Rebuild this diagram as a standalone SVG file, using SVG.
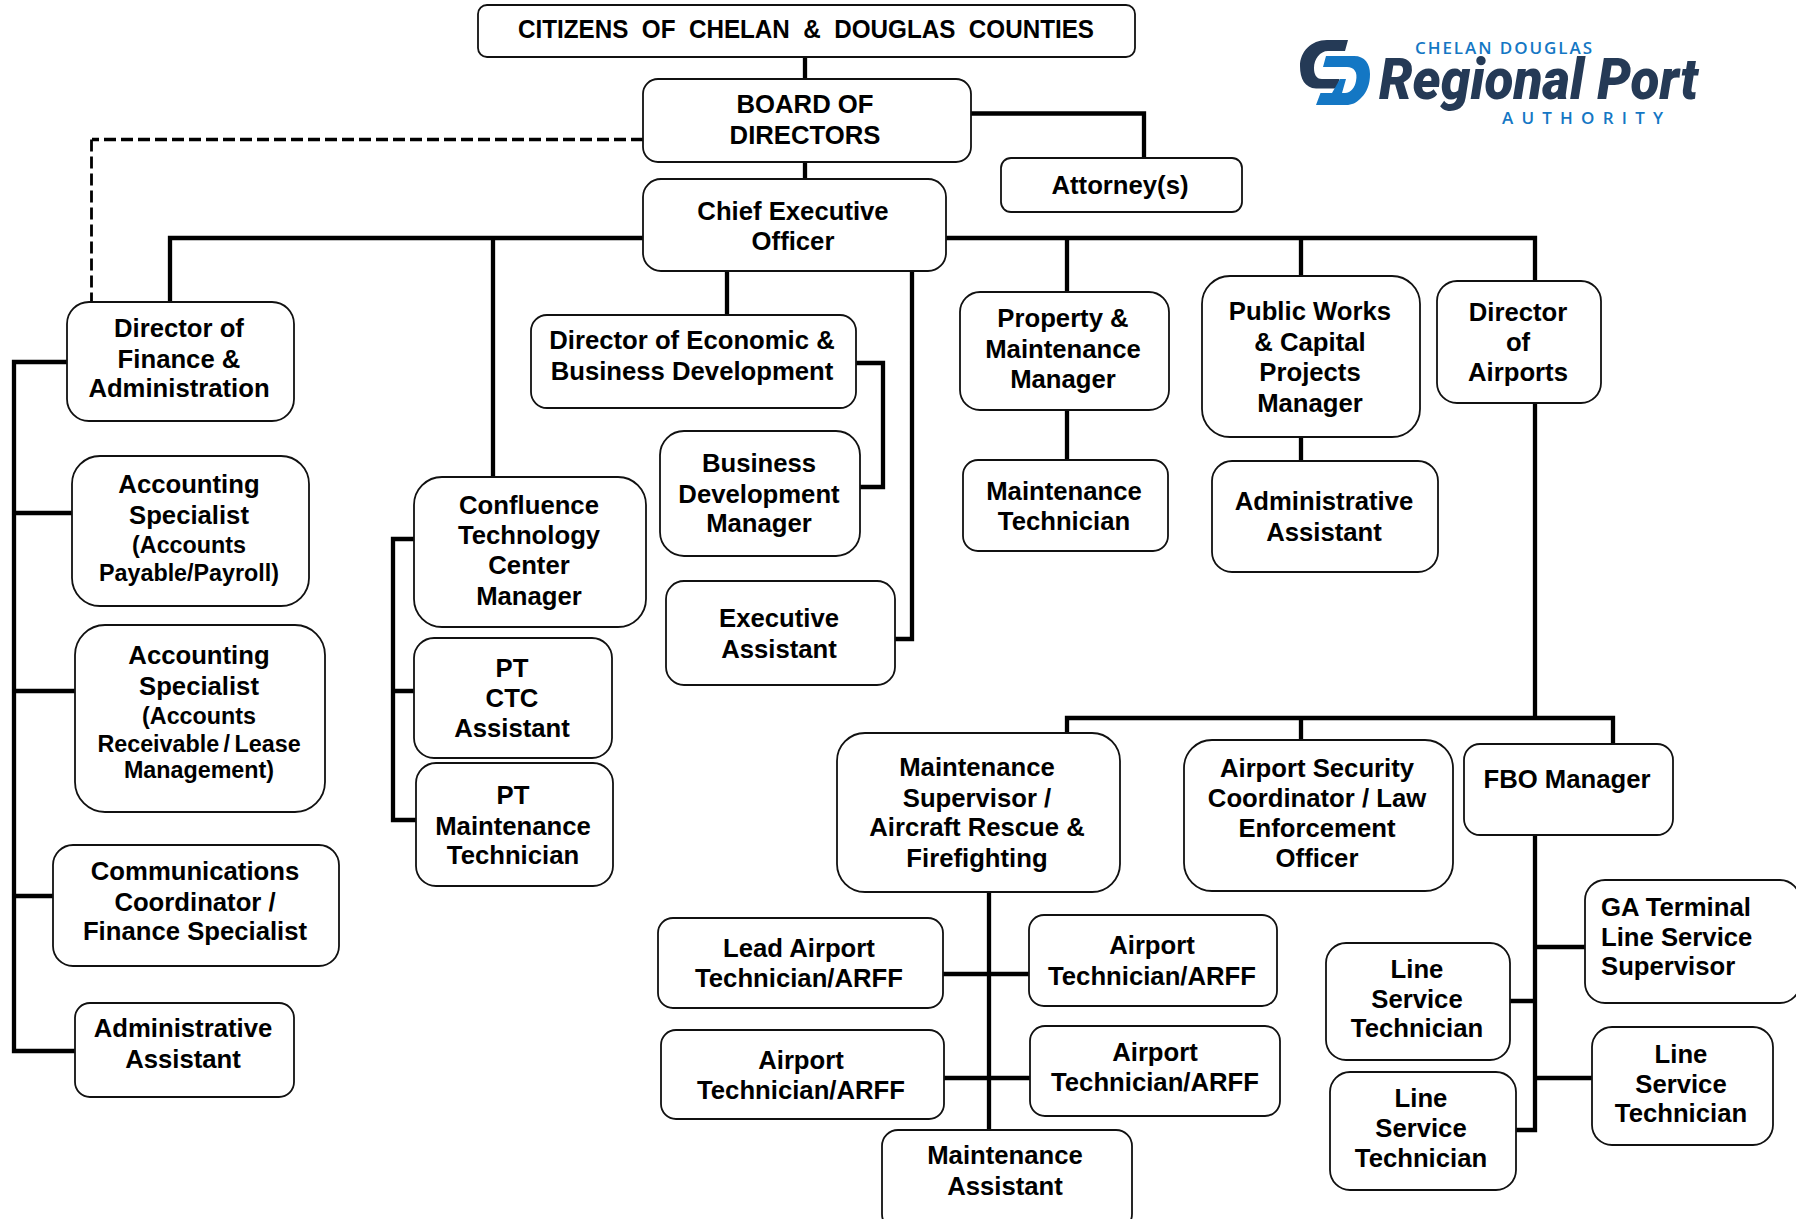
<svg xmlns="http://www.w3.org/2000/svg" width="1796" height="1219" viewBox="0 0 1796 1219">
<style>
.b{fill:#fff;stroke:#111;stroke-width:1.8}
text{font-family:"Liberation Sans",Arial,sans-serif;font-weight:700;font-size:25.700px;fill:#000;text-anchor:middle;white-space:pre}
.s{font-size:23.300px}
.l{text-anchor:start}
.c{fill:none;stroke:#000;stroke-width:4.300;stroke-linecap:square;stroke-linejoin:miter}
.d{fill:none;stroke:#000;stroke-width:2.800;stroke-dasharray:12 5}
.logo{font-family:"Open Sans","Noto Sans",sans-serif;text-anchor:start}
</style>
<rect width="1796" height="1219" fill="#fff"/>
<g id="connectors">
<path class="c" d="M805 57V79M805 162V179M971 113.500H1144V158M643 238H170V301M493 238V476M727 271V315M857 363H883V487H860M912 271V639H896M947 238H1535V281M1067 238V292M1301 238V276M1067 410V460M1301 437V462M1535 403V718M1067 733V718H1613V743M1301 718V740M1535 835V1130H1516M1535 947H1585M1511 1001H1535M1535 1078H1592M14 362H66M14 362V1051H76M14 513H72M14 691H76M14 896H54M413 539H393V820H416M393 691H413M989 892V1129M944 974H1029M945 1078H1030"/>
<path class="d" style="stroke-width:3.600" d="M643 139.500H92"/>
<path class="d" d="M91.500 139.500V301"/>
</g>
<g id="n-citizens"><rect class="b" x="478" y="5" width="657" height="52" rx="9"/><text x="806" y="37.600" textLength="576" lengthAdjust="spacingAndGlyphs">CITIZENS  OF  CHELAN  &amp;  DOUGLAS  COUNTIES</text></g>
<g id="n-board"><rect class="b" x="643" y="79" width="328" height="83" rx="15"/><text x="805" y="113">BOARD OF</text><text x="805" y="144">DIRECTORS</text></g>
<g id="n-ceo"><rect class="b" x="643" y="179" width="303" height="92" rx="18"/><text x="793" y="220">Chief Executive</text><text x="793" y="249.500">Officer</text></g>
<g id="n-attorney"><rect class="b" x="1001" y="158" width="241" height="54" rx="10"/><text x="1120" y="194">Attorney(s)</text></g>
<g id="n-dirfin"><rect class="b" x="67" y="302" width="227" height="119" rx="22"/><text x="179" y="337">Director of</text><text x="179" y="367.500">Finance &amp;</text><text x="179" y="397">Administration</text></g>
<g id="n-acc1"><rect class="b" x="72" y="456" width="237" height="150" rx="28"/><text x="189" y="493">Accounting</text><text x="189" y="524">Specialist</text><text class="s" x="189" y="553">(Accounts</text><text class="s" x="189" y="580.500">Payable/Payroll)</text></g>
<g id="n-acc2"><rect class="b" x="75" y="625" width="250" height="187" rx="30"/><text x="199" y="664">Accounting</text><text x="199" y="695">Specialist</text><text class="s" x="199" y="724">(Accounts</text><text class="s" x="199" y="751.500" style="word-spacing:-2px">Receivable / Lease</text><text class="s" x="199" y="778">Management)</text></g>
<g id="n-comm"><rect class="b" x="53" y="845" width="286" height="121" rx="20"/><text x="195" y="880">Communications</text><text x="195" y="911">Coordinator /</text><text x="195" y="940">Finance Specialist</text></g>
<g id="n-admin1"><rect class="b" x="75" y="1003" width="219" height="94" rx="15"/><text x="183" y="1037">Administrative</text><text x="183" y="1068">Assistant</text></g>
<g id="n-ctc"><rect class="b" x="414" y="477" width="232" height="150" rx="28"/><text x="529" y="514">Confluence</text><text x="529" y="544">Technology</text><text x="529" y="574">Center</text><text x="529" y="605">Manager</text></g>
<g id="n-ptctc"><rect class="b" x="414" y="638" width="198" height="120" rx="20"/><text x="512" y="677">PT</text><text x="512" y="706.500">CTC</text><text x="512" y="737">Assistant</text></g>
<g id="n-ptmaint"><rect class="b" x="416" y="763" width="197" height="123" rx="20"/><text x="513" y="804">PT</text><text x="513" y="835">Maintenance</text><text x="513" y="863.500">Technician</text></g>
<g id="n-econ"><rect class="b" x="531" y="315" width="325" height="93" rx="16"/><text x="692" y="349">Director of Economic &amp;</text><text x="692" y="380">Business Development</text></g>
<g id="n-bdm"><rect class="b" x="660" y="431" width="200" height="125" rx="24"/><text x="759" y="471.700">Business</text><text x="759" y="502.700">Development</text><text x="759" y="532.400">Manager</text></g>
<g id="n-exec"><rect class="b" x="666" y="581" width="229" height="104" rx="18"/><text x="779" y="627">Executive</text><text x="779" y="657.500">Assistant</text></g>
<g id="n-prop"><rect class="b" x="960" y="292" width="209" height="118" rx="20"/><text x="1063" y="327">Property &amp;</text><text x="1063" y="358">Maintenance</text><text x="1063" y="388">Manager</text></g>
<g id="n-mtech"><rect class="b" x="963" y="460" width="205" height="91" rx="15"/><text x="1064" y="500.400">Maintenance</text><text x="1064" y="530.200">Technician</text></g>
<g id="n-pw"><rect class="b" x="1202" y="276" width="218" height="161" rx="28"/><text x="1310" y="320">Public Works</text><text x="1310" y="351">&amp; Capital</text><text x="1310" y="381">Projects</text><text x="1310" y="412">Manager</text></g>
<g id="n-admin2"><rect class="b" x="1212" y="461" width="226" height="111" rx="20"/><text x="1324" y="510">Administrative</text><text x="1324" y="541">Assistant</text></g>
<g id="n-dirair"><rect class="b" x="1437" y="281" width="164" height="122" rx="20"/><text x="1518" y="321">Director</text><text x="1518" y="351">of</text><text x="1518" y="381">Airports</text></g>
<g id="n-msup"><rect class="b" x="837" y="733" width="283" height="159" rx="28"/><text x="977" y="776.400">Maintenance</text><text x="977" y="807.300">Supervisor /</text><text x="977" y="836">Aircraft Rescue &amp;</text><text x="977" y="866.900">Firefighting</text></g>
<g id="n-sec"><rect class="b" x="1184" y="740" width="269" height="151" rx="28"/><text x="1317" y="777">Airport Security</text><text x="1317" y="807">Coordinator / Law</text><text x="1317" y="837">Enforcement</text><text x="1317" y="867">Officer</text></g>
<g id="n-fbo"><rect class="b" x="1464" y="744" width="209" height="91" rx="16"/><text x="1567" y="787.500">FBO Manager</text></g>
<g id="n-ga"><rect class="b" x="1585" y="880" width="215" height="123" rx="20"/><text class="l" x="1601" y="916">GA Terminal</text><text class="l" x="1601" y="946">Line Service</text><text class="l" x="1601" y="975">Supervisor</text></g>
<g id="n-line1"><rect class="b" x="1326" y="943" width="184" height="117" rx="20"/><text x="1417" y="977.500">Line</text><text x="1417" y="1007.500">Service</text><text x="1417" y="1037">Technician</text></g>
<g id="n-line2"><rect class="b" x="1330" y="1072" width="186" height="118" rx="20"/><text x="1421" y="1107">Line</text><text x="1421" y="1137">Service</text><text x="1421" y="1166.500">Technician</text></g>
<g id="n-line3"><rect class="b" x="1592" y="1027" width="181" height="118" rx="20"/><text x="1681" y="1062.800">Line</text><text x="1681" y="1092.600">Service</text><text x="1681" y="1122.300">Technician</text></g>
<g id="n-lead"><rect class="b" x="658" y="918" width="285" height="90" rx="15"/><text x="799" y="957.400">Lead Airport</text><text x="799" y="987.200">Technician/ARFF</text></g>
<g id="n-at1"><rect class="b" x="1029" y="915" width="248" height="91" rx="15"/><text x="1152" y="954">Airport</text><text x="1152" y="984.900">Technician/ARFF</text></g>
<g id="n-at2"><rect class="b" x="661" y="1030" width="283" height="89" rx="15"/><text x="801" y="1068.500">Airport</text><text x="801" y="1099.400">Technician/ARFF</text></g>
<g id="n-at3"><rect class="b" x="1030" y="1026" width="250" height="90" rx="15"/><text x="1155" y="1060.500">Airport</text><text x="1155" y="1091.400">Technician/ARFF</text></g>
<g id="n-massist"><rect class="b" x="882" y="1130" width="250" height="100" rx="16"/><text x="1005" y="1163.600">Maintenance</text><text x="1005" y="1194.500">Assistant</text></g>
<g id="logo">
<path fill="#253a56" d="M1348 40H1327C1311 40 1300 52 1300 66C1300 79 1305 88 1316 88.500H1337L1339.500 79H1322C1316 79 1314 74 1314 68C1314 59 1320 51 1328 51H1345Z"/>
<path fill="#1477c4" d="M1326 56H1354C1365 56 1370 64 1370 74C1370 84 1367 92 1361 98C1356 103 1352 105 1346 105H1316L1320.500 93H1332L1340 79H1346L1342 93H1345C1351 93 1355 87 1356 81C1358 72 1354 67 1347 67H1323Z"/>
<text class="logo" x="1415" y="53.500" textLength="177" style="fill:#1477c4;font-weight:600;font-size:17px">CHELAN DOUGLAS</text>
<text class="logo" x="1379" y="99" textLength="319" lengthAdjust="spacingAndGlyphs" style="font-family:Roboto,sans-serif;fill:#253a56;font-style:italic;font-weight:900;font-size:57px">Regional Port</text>
<text class="logo" x="1502" y="124" textLength="161" style="fill:#1477c4;font-weight:600;font-size:17px">AUTHORITY</text>
</g>
</svg>
